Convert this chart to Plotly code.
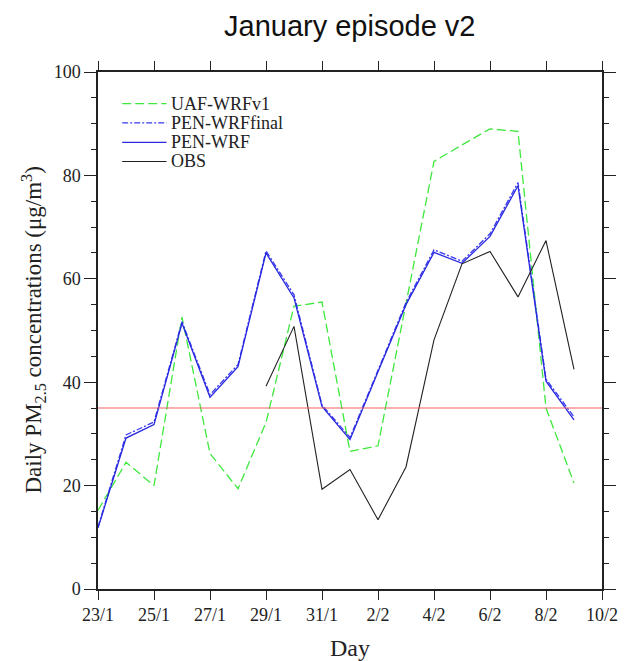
import plotly.graph_objects as go

# Day index 0 = 23/1, running daily to 9/2
day_index = list(range(18))
tick_positions = [0, 2, 4, 6, 8, 10, 12, 14, 16, 18]
tick_labels = ["23/1", "25/1", "27/1", "29/1", "31/1", "2/2", "4/2", "6/2", "8/2", "10/2"]

uaf_wrfv1 = [15.2, 24.5, 20.0, 52.6, 26.2, 19.4, 32.2, 54.7, 55.5, 26.6, 27.7, 55.2,
             82.7, 85.9, 89.0, 88.5, 35.0, 20.5]
pen_wrf_final = [12.0, 29.8, 32.3, 51.7, 37.6, 43.4, 65.4, 56.9, 35.6, 29.3, 42.3, 55.4,
                 65.6, 63.4, 68.7, 78.6, 40.6, 33.3]
pen_wrf = [11.8, 29.2, 31.8, 51.4, 37.1, 43.0, 65.0, 56.3, 35.3, 28.9, 42.0, 55.0,
           65.1, 63.0, 68.2, 78.0, 40.2, 32.7]
obs = [None, None, None, None, None, None, 39.2, 50.8, 19.3, 23.1, 13.4, 23.6,
       48.2, 62.9, 65.3, 56.5, 67.4, 42.5]
threshold = 35

series_names = ["UAF-WRFv1", "PEN-WRFfinal", "PEN-WRF", "OBS"]
series_values = [uaf_wrfv1, pen_wrf_final, pen_wrf, obs]
series_lines = [
    dict(color="#3ee83e", width=1.3, dash="9px,4px"),
    dict(color="#3a3aee", width=1.3, dash="6px,2px,2px,2px"),
    dict(color="#2828e0", width=1.3),
    dict(color="#222222", width=1.1),
]

serif = "Liberation Serif, Times New Roman, serif"
ink = "#222222"

fig = go.Figure()
for name, vals, line in zip(series_names, series_values, series_lines):
    fig.add_trace(go.Scatter(x=day_index, y=vals, mode="lines", name=name, line=line,
                             showlegend=False))

# Daily PM2.5 standard
fig.add_shape(type="line", xref="paper", x0=0, x1=1, yref="y", y0=threshold, y1=threshold,
              line=dict(color="#f06060", width=1.1))

# Compact key in the upper-left corner of the plot area
key_x0, key_x1, key_text_x = 0.048, 0.136, 0.140
key_rows = [0.939, 0.9015, 0.864, 0.827]
annotations = []
for name, line, ky in zip(series_names, series_lines, key_rows):
    fig.add_shape(type="line", xref="paper", yref="paper", x0=key_x0, x1=key_x1,
                  y0=ky, y1=ky, line=line)
    annotations.append(dict(text=name, xref="paper", yref="paper", x=key_text_x, y=ky,
                            showarrow=False, xanchor="left", yanchor="middle",
                            font=dict(family=serif, size=18, color=ink)))

axis_common = dict(showgrid=False, zeroline=False, showline=True, linecolor=ink,
                   linewidth=1.5, mirror="ticks", ticks="outside", tickcolor=ink,
                   tickwidth=1.3, tickfont=dict(family=serif, size=18, color=ink))

fig.update_xaxes(range=[0, 18], tickmode="array", tickvals=tick_positions,
                 ticktext=tick_labels, ticklen=9, **axis_common)
fig.update_yaxes(range=[0, 100], tickmode="array", tickvals=[0, 20, 40, 60, 80, 100],
                 ticklen=12, minor=dict(tickmode="linear", tick0=0, dtick=5, ticks="outside",
                                        ticklen=5, tickcolor=ink, tickwidth=1.1),
                 **axis_common)

annotations += [
    dict(text="January episode v2", xref="paper", yref="paper", x=0.5, y=1.0,
         yshift=46, showarrow=False, xanchor="center", yanchor="middle",
         font=dict(family="Liberation Sans, Arial, sans-serif", size=29, color="#111111")),
    dict(text="Day", xref="paper", yref="paper", x=0.5, y=0, yshift=-59,
         showarrow=False, xanchor="center", yanchor="middle",
         font=dict(family=serif, size=24, color=ink)),
    dict(text="Daily PM<sub>2.5</sub> concentrations (μg/m<sup>3</sup>)",
         xref="paper", yref="paper", x=0, y=0.5, xshift=-65, textangle=-90,
         showarrow=False, xanchor="center", yanchor="middle",
         font=dict(family=serif, size=23, color=ink)),
]

fig.update_layout(
    width=630, height=661,
    margin=dict(l=98, r=16, t=72, b=72),
    paper_bgcolor="white", plot_bgcolor="white",
    showlegend=False,
    annotations=annotations,
)

fig.write_html("out.html")
